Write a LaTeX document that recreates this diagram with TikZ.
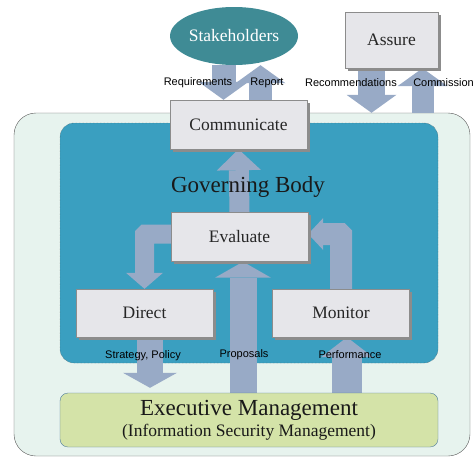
\documentclass[tikz,border=0pt]{standalone}
\usepackage{fontspec}
\setmainfont{Liberation Serif}
\newfontfamily\labelfont{Liberation Sans}
\usetikzlibrary{shapes.geometric, arrows.meta, shadows}
\definecolor{OrgMint}{HTML}{E7F3EE}
\definecolor{GovTeal}{HTML}{3A9FC0}
\definecolor{BoxGrey}{HTML}{E6E6EA}
\definecolor{FlowBlue}{HTML}{98AAC6}
\definecolor{StakeTeal}{HTML}{3F8B95}
\definecolor{ExecGreen}{HTML}{D4E3A8}
\definecolor{ExecEdge}{HTML}{4E7B9E}
\pgfdeclarelayer{bg}
\pgfdeclarelayer{arr}
\pgfsetlayers{bg,arr,main}

\begin{document}
\begin{tikzpicture}[x=1pt, y=-1pt,
    role/.style={draw=black!45, fill=BoxGrey, minimum width=137pt, minimum height=49pt,
        font=\fontsize{17.5}{20}\selectfont, text=black!85,
        drop shadow={shadow xshift=2.5pt, shadow yshift=-2.5pt, fill=black!45, opacity=1}},
    flow/.style={draw=FlowBlue, line width=24pt, -{Triangle[length=18pt, width=50pt, line width=0pt]}},
    flowlabel/.style={font=\labelfont\fontsize{11}{13}\selectfont, text=black}]
    \useasboundingbox (0,0) rectangle (473,458);

    % Organisation and governing body
    \begin{pgfonlayer}{bg}
        \node[draw=black!65, fill=OrgMint, rounded corners=22pt, minimum width=456pt, minimum height=343pt] (org) at (242,284.5) {};
        \node[draw=black!70, densely dotted, fill=GovTeal, rounded corners=14pt, minimum width=378pt, minimum height=240pt] (gov) at (249,243) {};
    \end{pgfonlayer}
    \node[font=\fontsize{23}{26}\selectfont, text=black!90] (govlabel) at (248,187) {Governing Body};

    % Stakeholders and assurance
    \node[ellipse, fill=StakeTeal, minimum width=128pt, minimum height=58pt, inner sep=0pt, text=white, font=\fontsize{17.5}{20}\selectfont] (stake) at (234,36) {Stakeholders};
    \node[role, minimum width=93pt, minimum height=56pt] (assure) at (391.5,40) {Assure};

    % Governing tasks
    \node[role] (comm) at (238.5,124.5) {Communicate};
    \node[role] (eval) at (239.5,237) {Evaluate};
    \node[role, minimum height=48pt] (direct) at (144.5,313) {Direct};
    \node[role, minimum height=48pt] (monitor) at (341,313) {Monitor};

    % Executive management
    \node[draw=ExecEdge, fill=ExecGreen, rounded corners=8pt, minimum width=378pt, minimum height=54pt, align=center, inner sep=0pt, text=black!90] (exec) at (249,420)
        {{\fontsize{23}{25}\selectfont Executive Management}\\[3pt]{\fontsize{17.5}{20}\selectfont (Information Security Management)}};

    % Flows
    \begin{pgfonlayer}{arr}
        \draw[flow] ([xshift=-15pt]comm.north |- stake.south) -- ([xshift=-15pt]comm.north);
        \draw[flow, line width=23pt] ([xshift=22pt]comm.north) -- ([xshift=22pt]comm.north |- stake.south);
        \draw[flow, line width=27pt] ([xshift=-20pt]assure.south) -- ([xshift=-20pt]assure.south |- org.north);
        \draw[flow, line width=22pt] ([xshift=31pt]assure.south |- org.north) -- ([xshift=31pt]assure.south);
        \draw[flow, line width=20pt, -{Triangle[length=21pt, width=44pt, line width=0pt]}] (eval.north) -- (comm.south);
        \draw[flow, line width=19pt, rounded corners=1pt, -{Triangle[length=16pt, width=37pt, line width=0pt]}] ([yshift=3pt]eval.west) -| (direct.north);
        \draw[flow, line width=22pt, rounded corners=1pt, -{Triangle[length=15pt, width=32pt, line width=0pt]}] (monitor.north) |- ([yshift=3pt]eval.east);
        \draw[flow, line width=27pt, -{Triangle[length=16pt, width=56pt, line width=0pt]}] ([xshift=3.5pt]eval.south |- exec.north) -- ([xshift=3.5pt]eval.south);
        \draw[flow, line width=26pt, -{Triangle[length=15pt, width=54pt, line width=0pt]}, shorten >=5pt] ([xshift=5.5pt]direct.south) -- ([xshift=5.5pt]direct.south |- exec.north);
        \draw[flow, line width=30pt, -{Triangle[length=20pt, width=52pt, line width=0pt]}] ([xshift=6pt]monitor.south |- exec.north) -- ([xshift=6pt]monitor.south);
    \end{pgfonlayer}

    % Labels
    \node[flowlabel] (lreq) at (198,83) {Requirements};
    \node[flowlabel] (lrep) at (267,83) {Report};
    \node[flowlabel] (lrec) at (351,83) {Recommendations};
    \node[flowlabel] (lcom) at (443.5,83) {Commission};
    \node[flowlabel] (lstr) at (143,356) {Strategy, Policy};
    \node[flowlabel] (lpro) at (244,355) {Proposals};
    \node[flowlabel] (lper) at (350,355) {Performance};
\end{tikzpicture}
\end{document}
